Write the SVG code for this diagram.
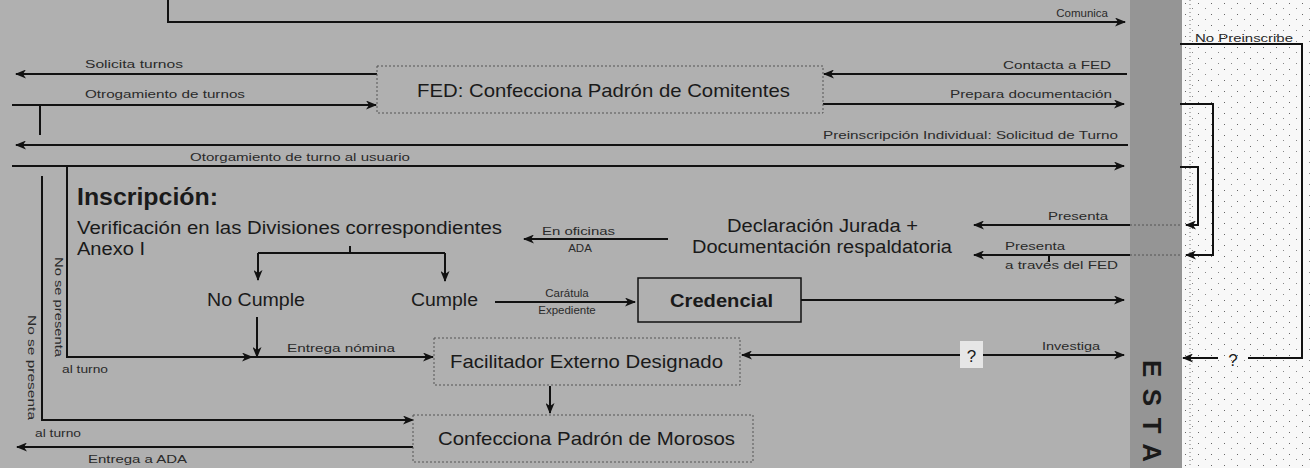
<svg xmlns="http://www.w3.org/2000/svg" width="1310" height="468" viewBox="0 0 1310 468">
<defs>
<style>
.ln{stroke:#111;stroke-width:2;fill:none}
.dt{stroke:#555;stroke-width:1;stroke-dasharray:2 2;fill:none}
.t{font-family:"Liberation Sans",Arial,sans-serif;fill:#1a1a1a}
.s{font-size:11.5px;fill:#2a2a2a}
.b{font-size:19px}
.m{font-size:18px}
.bold{font-weight:bold}
</style>
<marker id="ah" markerUnits="userSpaceOnUse" markerWidth="11" markerHeight="9" refX="10" refY="4.5" orient="auto-start-reverse">
<path d="M0,0 L11,4.5 L0,9 L3,4.5 z" fill="#111"/>
</marker>
<pattern id="dots" width="13" height="11" patternUnits="userSpaceOnUse">
<rect x="2" y="3" width="1" height="1" fill="#666"/>
<rect x="9" y="8" width="1" height="1" fill="#888"/>
</pattern>
</defs>
<g id="background">
<rect x="0" y="0" width="1130" height="468" fill="#b0b0b0"/>
<rect x="1130" y="0" width="52" height="468" fill="#959595"/>
<rect x="1182" y="0" width="128" height="468" fill="#f8f8f8"/>
<rect x="1182" y="0" width="128" height="468" fill="url(#dots)"/>
<line x1="1190" y1="0" x2="1190" y2="468" stroke="#777" stroke-width="1" stroke-dasharray="1 3"/>
</g>
<g id="connectors">
<path class="ln" d="M168,0 V22 H1125" marker-end="url(#ah)"/>
<path class="ln" d="M377,74 H16" marker-end="url(#ah)"/>
<path class="ln" d="M12,105 H376" marker-end="url(#ah)"/>
<path class="ln" d="M40,105 V135"/>
<path class="ln" d="M1127,74 H824" marker-end="url(#ah)"/>
<path class="ln" d="M823,104 H1124" marker-end="url(#ah)"/>
<path class="ln" d="M1128,145 H16" marker-end="url(#ah)"/>
<path class="ln" d="M12,166 H1124" marker-end="url(#ah)"/>
<path class="ln" d="M1180,44 H1302 V358 H1248"/>
<path class="ln" d="M1218,358 H1183" marker-end="url(#ah)"/>
<path class="ln" d="M1180,104 H1213 V255 H1186" marker-end="url(#ah)"/>
<path class="ln" d="M1180,167 H1198 V225 H1186" marker-end="url(#ah)"/>
<path class="dt" d="M1130,225 H1180 M1130,255 H1180"/>
<path class="ln" d="M1130,225 H974" marker-end="url(#ah)"/>
<path class="ln" d="M1130,255 H974" marker-end="url(#ah)"/>
<path class="ln" d="M1049,255 V262" stroke-width="1"/>
<path class="ln" d="M668,239 H524" marker-end="url(#ah)"/>
<path class="ln" d="M350,246 V253 M258,253 H445"/>
<path class="ln" d="M258,253 V280" marker-end="url(#ah)"/>
<path class="ln" d="M445,253 V281" marker-end="url(#ah)"/>
<path class="ln" d="M495,302 H635" marker-end="url(#ah)"/>
<path class="ln" d="M801,300 H1124" marker-end="url(#ah)"/>
<path class="ln" d="M257,317 V357" marker-end="url(#ah)"/>
<path class="ln" d="M67,167 V357 H252" marker-end="url(#ah)"/>
<path class="ln" d="M252,357 H433" marker-end="url(#ah)"/>
<path class="ln" d="M42,176 V420 H413" marker-end="url(#ah)"/>
<path class="ln" d="M413,447 H17" marker-end="url(#ah)"/>
<path class="ln" d="M742,355 H1124" marker-start="url(#ah)" marker-end="url(#ah)"/>
<path class="ln" d="M550,386 V413" marker-end="url(#ah)"/>
</g>
<g id="edge-labels" class="t s">
<text x="1108" y="17" text-anchor="end">Comunica</text>
<text x="85" y="68" textLength="98" lengthAdjust="spacingAndGlyphs">Solicita turnos</text>
<text x="85" y="98" textLength="160" lengthAdjust="spacingAndGlyphs">Otrogamiento de turnos</text>
<text x="1003" y="69" textLength="108" lengthAdjust="spacingAndGlyphs">Contacta a FED</text>
<text x="950" y="98" textLength="162" lengthAdjust="spacingAndGlyphs">Prepara documentación</text>
<text x="823" y="139" textLength="295" lengthAdjust="spacingAndGlyphs">Preinscripción Individual: Solicitud de Turno</text>
<text x="190" y="161" textLength="220" lengthAdjust="spacingAndGlyphs">Otorgamiento de turno al usuario</text>
<text x="1195" y="42" textLength="98" lengthAdjust="spacingAndGlyphs">No Preinscribe</text>
<text x="542" y="235" textLength="73" lengthAdjust="spacingAndGlyphs">En oficinas</text>
<text x="580" y="252" text-anchor="middle">ADA</text>
<text x="1048" y="220" textLength="60" lengthAdjust="spacingAndGlyphs">Presenta</text>
<text x="1005" y="250" textLength="60" lengthAdjust="spacingAndGlyphs">Presenta</text>
<text x="1005" y="269" textLength="113" lengthAdjust="spacingAndGlyphs">a través del FED</text>
<text x="567" y="297" text-anchor="middle">Carátula</text>
<text x="567" y="314" text-anchor="middle">Expediente</text>
<text x="287" y="352" textLength="108" lengthAdjust="spacingAndGlyphs">Entrega nómina</text>
<text x="62" y="373" textLength="46" lengthAdjust="spacingAndGlyphs">al turno</text>
<text x="35" y="437" textLength="46" lengthAdjust="spacingAndGlyphs">al turno</text>
<text transform="translate(55,257) rotate(90)" textLength="100" lengthAdjust="spacingAndGlyphs">No se presenta</text>
<text transform="translate(28,315) rotate(90)" textLength="105" lengthAdjust="spacingAndGlyphs">No se presenta</text>
<text x="1042" y="350" textLength="58" lengthAdjust="spacingAndGlyphs">Investiga</text>
<text x="88" y="463" textLength="99" lengthAdjust="spacingAndGlyphs">Entrega a ADA</text>
</g>
<g id="q1">
<rect x="960" y="341" width="23" height="27" fill="#e6e6e6"/>
<text class="t" x="971.5" y="362" text-anchor="middle" font-size="17">?</text>
</g>
<g id="q2">
<text class="t" x="1233" y="366" text-anchor="middle" font-size="17">?</text>
</g>
<g id="node-fed">
<rect class="dt" x="377" y="66" width="446" height="47"/>
<text class="t b" x="417" y="97" textLength="373" lengthAdjust="spacingAndGlyphs">FED: Confecciona Padrón de Comitentes</text>
</g>
<g id="node-inscripcion">
<text class="t bold" x="77" y="205" font-size="23" textLength="141" lengthAdjust="spacingAndGlyphs">Inscripción:</text>
<text class="t" x="77" y="234" font-size="17.5" textLength="425" lengthAdjust="spacingAndGlyphs">Verificación en las Divisiones correspondientes</text>
<text class="t" x="77" y="255" font-size="17.5" textLength="68" lengthAdjust="spacingAndGlyphs">Anexo I</text>
</g>
<g id="node-declaracion">
<text class="t m" x="727" y="232" textLength="191" lengthAdjust="spacingAndGlyphs">Declaración Jurada +</text>
<text class="t m" x="692" y="253" textLength="260" lengthAdjust="spacingAndGlyphs">Documentación respaldatoria</text>
</g>
<g id="node-nocumple">
<text class="t m" x="207" y="306" textLength="98" lengthAdjust="spacingAndGlyphs">No Cumple</text>
</g>
<g id="node-cumple">
<text class="t m" x="411" y="306" textLength="67" lengthAdjust="spacingAndGlyphs">Cumple</text>
</g>
<g id="node-credencial">
<rect x="638" y="278" width="163" height="44" fill="none" stroke="#111" stroke-width="1.5"/>
<text class="t m bold" x="670" y="307" textLength="103" lengthAdjust="spacingAndGlyphs">Credencial</text>
</g>
<g id="node-facilitador">
<rect class="dt" x="434" y="338" width="306" height="47"/>
<text class="t b" x="450" y="368" textLength="273" lengthAdjust="spacingAndGlyphs">Facilitador Externo Designado</text>
</g>
<g id="node-morosos">
<rect class="dt" x="413" y="415" width="340" height="47"/>
<text class="t b" x="438" y="445" textLength="297" lengthAdjust="spacingAndGlyphs">Confecciona Padrón de Morosos</text>
</g>
<g id="node-esta">
<text class="t bold" transform="translate(1143,360) rotate(90)" font-size="26" textLength="102" lengthAdjust="spacing">ESTA</text>
</g>
</svg>
